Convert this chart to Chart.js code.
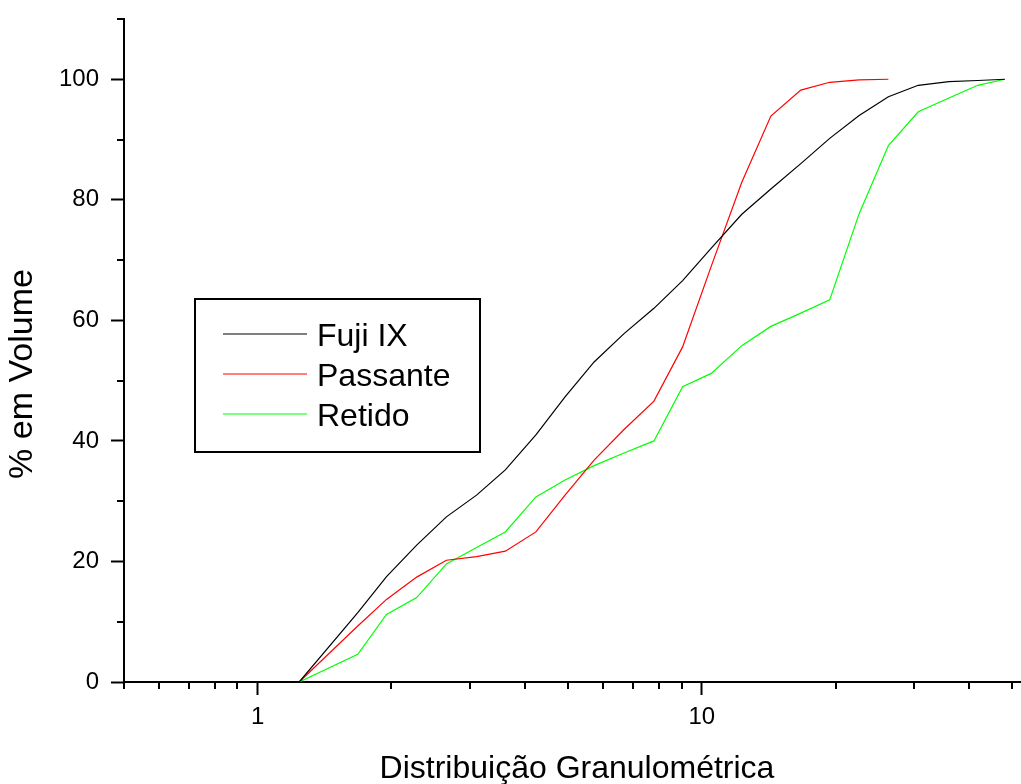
<!DOCTYPE html>
<html>
<head>
<meta charset="utf-8">
<script src="https://cdn.jsdelivr.net/npm/chart.js@4.4.1/dist/chart.umd.min.js"></script>
<style>
  html, body { margin: 0; padding: 0; background: #fff; }
  #wrap { width: 1021px; height: 784px; position: relative; }
</style>
</head>
<body>
<div id="wrap"><canvas id="chart"></canvas></div>
<script>
// Particle size distribution, log x axis.

const FONT = '"Liberation Sans", Arial, Helvetica, sans-serif';

const sizes = [1.24, 1.68, 1.95, 2.28, 2.66, 3.11, 3.61, 4.23, 4.92, 5.72, 6.68, 7.8,
  9.05, 10.5, 12.3, 14.3, 16.7, 19.4, 22.6, 26.3, 30.7, 36.0, 41.8, 48.1];
const fujiIX = [0, 11.5, 17.5, 22.7, 27.4, 31.0, 35.2, 41.0, 47.3, 53.1, 57.8, 62.0,
  66.6, 72.0, 77.6, 81.8, 86.0, 90.2, 94.0, 97.1, 99.0, 99.6, 99.8, 100];
const passante = [0, 9.3, 13.7, 17.4, 20.2, 20.8, 21.7, 24.9, 31.0, 36.8, 41.9, 46.6,
  55.6, 69.0, 82.9, 93.9, 98.2, 99.5, 99.9, 100, null, null, null, null];
const retido = [0, 4.6, 11.2, 14.0, 19.6, 22.3, 24.9, 30.7, 33.5, 35.9, 38.0, 40.0,
  49.0, 51.2, 55.8, 59.0, 61.2, 63.4, 77.7, 89.0, 94.6, 96.9, 99.0, 100];

const seriesNames = ['Fuji IX', 'Passante', 'Retido'];
const seriesColors = ['#000000', '#ff0000', '#00ff00'];

const xMajorTicks = [1, 10];
const xMinorTicks = [0.5, 0.6, 0.7, 0.8, 0.9, 2, 3, 4, 5, 6, 7, 8, 9, 20, 30, 40, 50];
const yMajorTicks = [0, 20, 40, 60, 80, 100];
const yMinorTicks = [10, 30, 50, 70, 90, 110];

const xTitle = 'Distribuição Granulométrica';
const yTitle = '% em Volume';

function toPoints(ys) {
  const pts = [];
  ys.forEach((y, i) => { if (y != null) pts.push({x: sizes[i], y}); });
  return pts;
}

// minor ticks, axis titles and the boxed legend
const decorPlugin = {
  id: 'decor',
  afterDraw(chart) {
    const ctx = chart.ctx;
    const xs = chart.scales.x, ys = chart.scales.y;
    const area = chart.chartArea;
    ctx.save();
    ctx.strokeStyle = '#000';
    ctx.lineWidth = 2;
    ctx.beginPath();
    xMinorTicks.forEach(v => {
      const px = Math.round(xs.getPixelForValue(v));
      ctx.moveTo(px, area.bottom);
      ctx.lineTo(px, area.bottom + 7);
    });
    yMinorTicks.forEach(v => {
      const py = Math.round(ys.getPixelForValue(v));
      ctx.moveTo(area.left, py);
      ctx.lineTo(area.left - 7, py);
    });
    ctx.stroke();

    // axis titles
    ctx.fillStyle = '#000';
    ctx.textAlign = 'center';
    ctx.textBaseline = 'alphabetic';
    ctx.font = '32px ' + FONT;
    ctx.fillText(xTitle, 577, 778);
    ctx.save();
    ctx.font = '34px ' + FONT;
    ctx.translate(32, 374);
    ctx.rotate(-Math.PI / 2);
    ctx.fillText(yTitle, 0, 0);
    ctx.restore();

    // legend box
    ctx.font = '32px ' + FONT;
    ctx.lineWidth = 2;
    ctx.strokeRect(195, 299, 285, 153);
    chart.data.datasets.forEach((ds, i) => {
      const y = 334 + i * 40;
      ctx.strokeStyle = ds.borderColor;
      ctx.lineWidth = 1.2;
      ctx.beginPath();
      ctx.moveTo(223, y);
      ctx.lineTo(307, y);
      ctx.stroke();
      ctx.fillStyle = '#000';
      ctx.textAlign = 'left';
      ctx.fillText(ds.label, 317, y + 12);
    });
    ctx.restore();
  }
};

new Chart(document.getElementById('chart'), {
  type: 'line',
  data: {
    datasets: [fujiIX, passante, retido].map((ys, i) => ({
      label: seriesNames[i],
      data: toPoints(ys),
      borderColor: seriesColors[i],
      borderWidth: 1.2,
      pointRadius: 0,
      tension: 0,
      fill: false
    }))
  },
  options: {
    responsive: true,
    maintainAspectRatio: false,
    animation: false,
    layout: { padding: { top: 19, left: 0, right: 0, bottom: 0 } },
    plugins: { legend: { display: false }, tooltip: { enabled: false } },
    scales: {
      x: {
        type: 'logarithmic',
        min: 0.5,
        max: 52.3,
        afterBuildTicks: s => { s.ticks = xMajorTicks.map(v => ({value: v})); },
        afterFit: s => { s.height = 102; s.paddingLeft = 0; s.paddingRight = 0; },
        grid: { drawOnChartArea: false, tickLength: 13, tickWidth: 2, tickColor: '#000' },
        border: { display: true, color: '#000', width: 2 },
        ticks: {
          color: '#000',
          font: { family: FONT, size: 24 },
          padding: 8,
          maxRotation: 0,
          autoSkip: false,
          callback: v => String(v)
        }
      },
      y: {
        type: 'linear',
        min: 0,
        max: 110,
        afterBuildTicks: s => { s.ticks = yMajorTicks.map(v => ({value: v})); },
        afterFit: s => { s.width = 124; s.paddingTop = 0; s.paddingBottom = 0; },
        grid: { drawOnChartArea: false, tickLength: 13, tickWidth: 2, tickColor: '#000' },
        border: { display: true, color: '#000', width: 2 },
        ticks: {
          color: '#000',
          font: { family: FONT, size: 24 },
          padding: 12,
          callback: v => String(v)
        }
      }
    }
  },
  plugins: [decorPlugin]
});
</script>
</body>
</html>
